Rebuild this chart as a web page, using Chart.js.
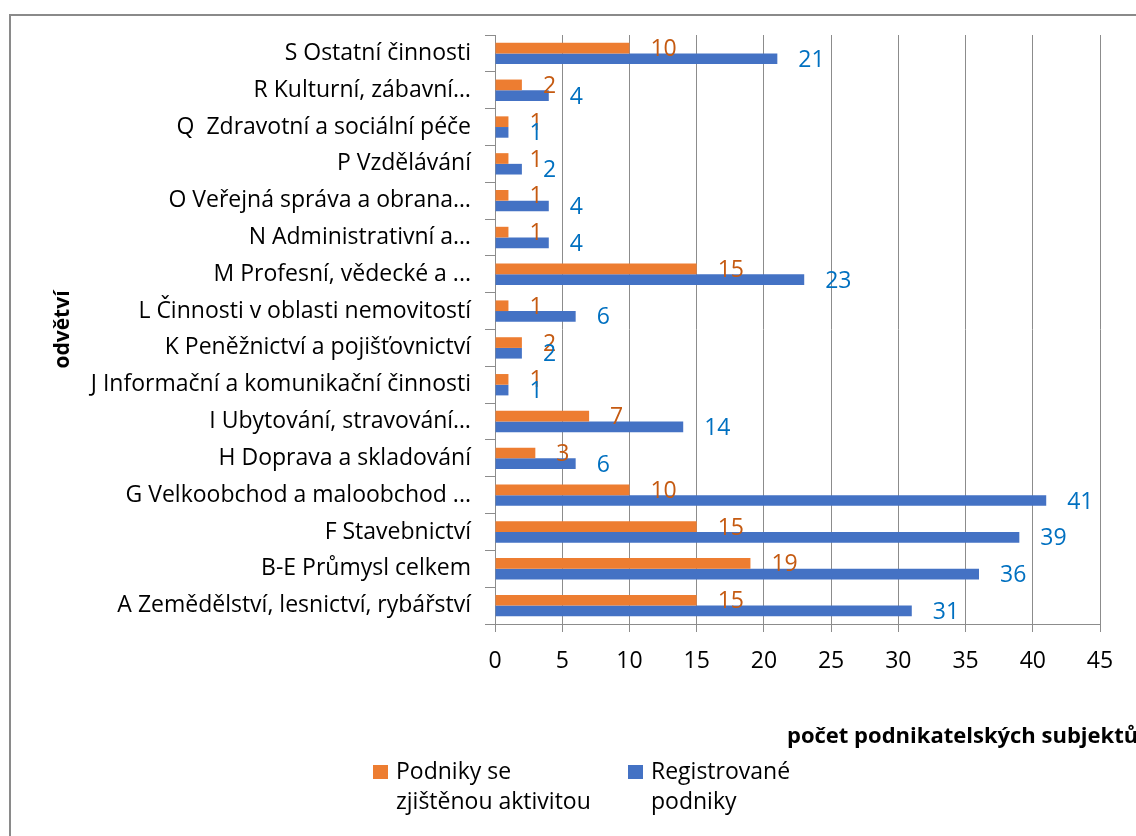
<!DOCTYPE html>
<html lang="cs">
<head>
<meta charset="utf-8">
<title>Podnikatelské subjekty podle odvětví</title>
<script src="https://cdn.jsdelivr.net/npm/chart.js@4.4.1/dist/chart.umd.min.js"></script>
<style>
  html, body { margin: 0; padding: 0; background: #fff; }
</style>
</head>
<body>
<canvas id="graf" width="1136" height="836"></canvas>
<script>
// odvětví shora dolů, jak jsou v grafu
const odvetvi = [
  "S Ostatní činnosti",
  "R Kulturní, zábavní…",
  "Q  Zdravotní a sociální péče",
  "P Vzdělávání",
  "O Veřejná správa a obrana…",
  "N Administrativní a…",
  "M Profesní, vědecké a ...",
  "L Činnosti v oblasti nemovitostí",
  "K Peněžnictví a pojišťovnictví",
  "J Informační a komunikační činnosti",
  "I Ubytování, stravování…",
  "H Doprava a skladování",
  "G Velkoobchod a maloobchod ...",
  "F Stavebnictví",
  "B-E Průmysl celkem",
  "A Zemědělství, lesnictví, rybářství"
];
const aktivni = [10, 2, 1, 1, 1, 1, 15, 1, 2, 1, 7, 3, 10, 15, 19, 15];
const registrovane = [21, 4, 1, 2, 4, 4, 23, 6, 2, 1, 14, 6, 41, 39, 36, 31];
const osaMax = 45;
const osaKrok = 5;
const legendaAktivni = ["Podniky se", "zjištěnou aktivitou"];
const legendaRegistrovane = ["Registrované", "podniky"];
const nazevX = "počet podnikatelských subjektů";
const nazevY = "odvětví";

const pismo = "'Open Sans', sans-serif";
const seda = "#8c8c8c";

// rámeček kolem grafu (vlevo a nahoře)
const ramecek = {
  id: "ramecek",
  beforeDraw(chart) {
    const ctx = chart.ctx;
    ctx.save();
    ctx.strokeStyle = "#8a8a8a";
    ctx.lineWidth = 2;
    ctx.beginPath();
    ctx.moveTo(10, 836);
    ctx.lineTo(10, 15);
    ctx.lineTo(1136, 15);
    ctx.stroke();
    ctx.restore();
  }
};

// hodnoty za koncem sloupců
const popisky = {
  id: "popisky",
  afterDatasetsDraw(chart) {
    const ctx = chart.ctx;
    ctx.save();
    ctx.font = "23px " + pismo;
    ctx.textAlign = "left";
    ctx.textBaseline = "middle";
    chart.data.datasets.forEach((ds, i) => {
      ctx.fillStyle = ds.barvaPopisku;
      chart.getDatasetMeta(i).data.forEach((bar, j) => {
        ctx.fillText(ds.data[j], bar.x + 21, bar.y + 1.5);
      });
    });
    ctx.restore();
  }
};

// název osy x a legenda (dvouřádkové položky)
const legenda = {
  id: "legenda",
  afterDraw(chart) {
    const ctx = chart.ctx;
    ctx.save();
    ctx.fillStyle = "#000";
    ctx.textBaseline = "middle";
    ctx.font = "bold 22px " + pismo;
    ctx.fillText(nazevX, 787, 737);

    ctx.font = "23px " + pismo;
    const polozky = [
      { x: 373, barva: chart.data.datasets[0].backgroundColor, radky: legendaAktivni },
      { x: 628, barva: chart.data.datasets[1].backgroundColor, radky: legendaRegistrovane }
    ];
    polozky.forEach(p => {
      ctx.fillStyle = p.barva;
      ctx.fillRect(p.x, 765, 15, 14);
      ctx.fillStyle = "#000";
      p.radky.forEach((r, k) => ctx.fillText(r, p.x + 23, 772 + k * 30));
    });
    ctx.restore();
  }
};

new Chart(document.getElementById("graf"), {
  type: "bar",
  data: {
    labels: odvetvi,
    datasets: [
      {
        label: legendaAktivni.join(" "),
        data: aktivni,
        backgroundColor: "#ED7D31",
        barvaPopisku: "#C55A11",
        categoryPercentage: 0.58,
        barPercentage: 1
      },
      {
        label: legendaRegistrovane.join(" "),
        data: registrovane,
        backgroundColor: "#4472C4",
        barvaPopisku: "#0070C0",
        categoryPercentage: 0.58,
        barPercentage: 1
      }
    ]
  },
  options: {
    indexAxis: "y",
    responsive: false,
    animation: false,
    layout: { padding: { left: 30, right: 36, top: 35, bottom: 0 } },
    plugins: {
      legend: { display: false },
      tooltip: { enabled: false }
    },
    scales: {
      x: {
        min: 0,
        max: osaMax,
        ticks: { stepSize: osaKrok, color: "#000", font: { family: pismo, size: 23 }, padding: 16 },
        grid: { color: seda, lineWidth: 1, tickLength: 8 },
        border: { color: seda, width: 1 },
        afterFit: s => { s.height = 212; }
      },
      y: {
        offset: true,
        ticks: { color: "#000", font: { family: pismo, size: 23 }, padding: 14, autoSkip: false },
        grid: { offset: true, drawOnChartArea: false, tickLength: 10, color: seda },
        border: { color: seda, width: 1 },
        title: {
          display: true,
          text: nazevY,
          color: "#000",
          font: { family: pismo, size: 21, weight: "bold" },
          padding: { top: 20, bottom: 0 }
        },
        afterFit: s => { s.width = 465; }
      }
    }
  },
  plugins: [ramecek, popisky, legenda]
});
</script>
</body>
</html>
